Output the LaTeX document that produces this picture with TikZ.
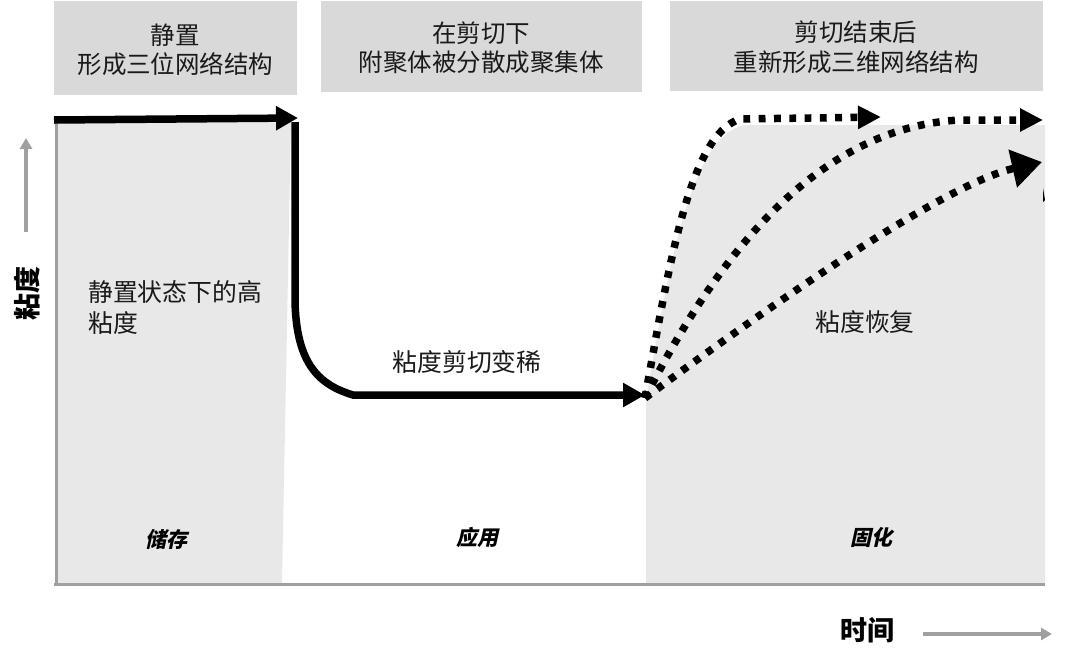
\documentclass[tikz,border=0pt]{standalone}
\usepackage{fontspec}
\usetikzlibrary{arrows.meta}
\newfontfamily\cjk{Noto Sans CJK SC}
\newfontfamily\cjkit[FakeSlant=0.22]{Noto Sans CJK SC}
\definecolor{hdr}{HTML}{D9D9D9}
\definecolor{reg}{HTML}{E8E8E8}
\definecolor{axis}{HTML}{A0A0A0}
\definecolor{txt}{HTML}{1A1A1A}
\tikzset{
  hdrbox/.style={fill=hdr, draw=none},
  hdrtext/.style={text=txt, align=center, font=\cjk\fontsize{24.5}{29.5}\selectfont, inner sep=0pt},
  bodytext/.style={text=txt, font=\cjk\fontsize{24.8}{31}\selectfont, inner sep=0pt},
  phase/.style={text=black, font=\cjkit\bfseries\fontsize{21}{25}\selectfont, inner sep=0pt},
  axlabel/.style={text=black, font=\cjk\bfseries\fontsize{27}{30}\selectfont, inner sep=0pt},
  solidcurve/.style={line width=7.5pt, black, -{Triangle[length=22pt,width=23pt]}},
  dotcurve/.style={line width=7.5pt, black, dash pattern=on 6.8pt off 8.5pt, line cap=butt},
  axisline/.style={line width=3pt, axis},
  axarrow/.style={line width=4pt, axis, -{Triangle[length=11pt,width=12pt]}}
}
\begin{document}
\begin{tikzpicture}[x=1pt,y=-1pt]
\path[use as bounding box] (0,0) rectangle (1080,664);
% header boxes
\fill[hdrbox] (54,1) rectangle (297,95);
\fill[hdrbox] (321,1) rectangle (642,92);
\fill[hdrbox] (670,1) rectangle (1043,91);
\node[hdrtext] (h1) at (175.5,50) {静置\\形成三位网络结构};
\node[hdrtext] (h2) at (481,48) {在剪切下\\附聚体被分散成聚集体};
\node[hdrtext] (h3) at (856,47) {剪切结束后\\重新形成三维网络结构};
% gray regions
\fill[reg] (56,120) -- (291,120) -- (282,584) -- (56,584) -- cycle;
\fill[reg] (646,584) -- (646,400) .. controls (668,270) and (690,135) .. (745,125) -- (1045,125) -- (1045,584) -- cycle;
% axes
\draw[axisline] (56,118) -- (56,586);
\draw[axisline] (54,584) -- (1045,584);
% coordinates
\coordinate (s0) at (54,120);
\coordinate (s1) at (298,118);
\coordinate (s2) at (645,395);
\coordinate (d0) at (645,398);
\coordinate (e1) at (881,117);
\coordinate (e2) at (1043,120);
\coordinate (e3) at (1042,162);
% solid curve
\draw[solidcurve] (s0) -- (s1);
\draw[solidcurve] (295,122) -- (295,300) .. controls (296,365) and (320,385) .. (353,395) -- (s2);
% dotted curves
\draw[dotcurve, -{Triangle[length=23pt,width=22pt]}] (d0) .. controls (670,260) and (690,135) .. (740,119) -- (e1);
\draw[dotcurve, -{Triangle[length=23pt,width=22pt]}] (d0) .. controls (700,290) and (800,128) .. (960,120) -- (e2);
\draw[dotcurve, -{Triangle[length=30pt,width=37pt]}] (d0) .. controls (750,320) and (940,185) .. (e3);
\fill[black] (1043,188) -- (1045,200) -- (1043,202) -- cycle;
% texts
\node[bodytext, anchor=west] (t1) at (88,292) {静置状态下的高};
\node[bodytext, anchor=west] (t2) at (88,323) {粘度};
\node[bodytext] (t3) at (467,362) {粘度剪切变稀};
\node[bodytext] (t4) at (865,322) {粘度恢复};
\node[phase] (p1) at (166,539) {储存};
\node[phase] (p2) at (477,537) {应用};
\node[phase] (p3) at (871,537) {固化};
% axis labels
\node[axlabel, rotate=90] (ylab) at (27,293) {粘度};
\node[axlabel] (xlab) at (867,630) {时间};
\coordinate (ya) at (26,232);
\coordinate (yb) at (26,138);
\draw[axarrow] (ya) -- (yb);
\coordinate (xa) at (923,634);
\coordinate (xb) at (1052,634);
\draw[axarrow] (xa) -- (xb);
\end{tikzpicture}
\end{document}
